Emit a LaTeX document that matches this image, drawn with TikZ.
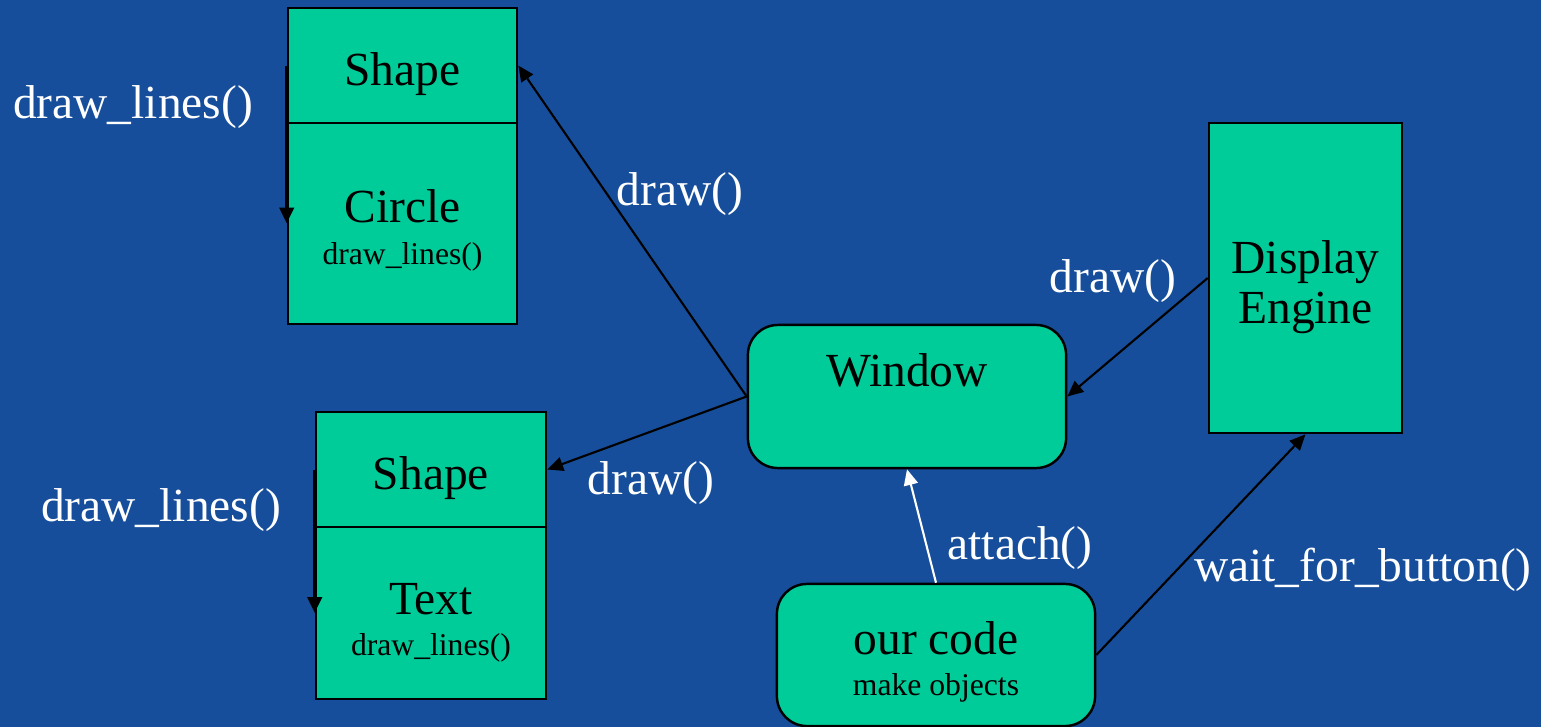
\documentclass[tikz,border=0pt]{standalone}
\usepackage{fontspec}
\setmainfont{Liberation Serif}
\usetikzlibrary{arrows.meta}
\definecolor{slideblue}{RGB}{22,78,155}
\definecolor{boxgreen}{RGB}{0,204,153}
\newcommand{\smallfnt}{\fontsize{9}{10.5}\selectfont}

\begin{document}
\begin{tikzpicture}[x=0.01cm, y=-0.01cm, every node/.style={font=\fontsize{13.5}{15}\selectfont},
  cls/.style={draw, fill=boxgreen, line width=0.7pt, inner sep=0pt, align=center,
    execute at begin node={\rule{0pt}{#1}}},
  cls/.default=14pt,
  lbl/.style={text=white},
  conn/.style={line width=0.6pt, -{Triangle[length=4.5pt,width=4pt]}}]
\useasboundingbox (0,0) rectangle (1541,727);
\fill[slideblue] (0,0) rectangle (1541,727);
% Shape / Circle
\node[cls, minimum width=2.29cm, minimum height=1.15cm] (top1) at (402.5,65.5) {Shape};
\node[cls=25pt, minimum width=2.29cm, minimum height=2.01cm] (circ) at (402.5,223.5) {Circle\\[-3.3pt]{\smallfnt draw\_lines()}};
% Shape / Text
\node[cls, minimum width=2.30cm, minimum height=1.15cm] (top2) at (431,469.5) {Shape};
\node[cls=26pt, minimum width=2.30cm, minimum height=1.72cm] (txt) at (431,613) {Text\\[-3.3pt]{\smallfnt draw\_lines()}};
% the rest
\node[cls, rounded corners=0.3cm, minimum width=3.18cm, minimum height=1.43cm, text height=0.33cm, text depth=0.52cm] (win) at (907,396.5) {Window};
\node[cls=29pt, minimum width=1.93cm, minimum height=3.10cm] (disp) at (1305.5,278) {Display\\[-0.8pt]Engine};
\node[cls=24.7pt, rounded corners=0.3cm, minimum width=3.18cm, minimum height=1.42cm] (code) at (936,655) {our code\\[-3.6pt]{\smallfnt make objects}};

\draw[conn, line width=1pt] (top1.west) -- (circ.west);
\draw[conn, line width=1pt] (top2.west) -- (txt.west);
\draw[conn] (win.west) -- (top1.east);
\draw[conn] (win.west) -- (top2.east);
\draw[conn] (disp.west) -- (win.east);
\draw[conn, white] (code.north) -- (win.south);
\draw[conn] (code.east) -- (disp.south);

\node[lbl] (dl1) at (133,107) {draw\_lines()};
\node[lbl] (dl2) at (161,510) {draw\_lines()};
\node[lbl] (dr1) at (680,194) {draw()};
\node[lbl] (dr2) at (651,483) {draw()};
\node[lbl] (dr3) at (1113,281) {draw()};
\node[lbl] (att) at (1020,548) {attach()};
\node[lbl] (wfb) at (1363,570) {wait\_for\_button()};
\end{tikzpicture}
\end{document}
